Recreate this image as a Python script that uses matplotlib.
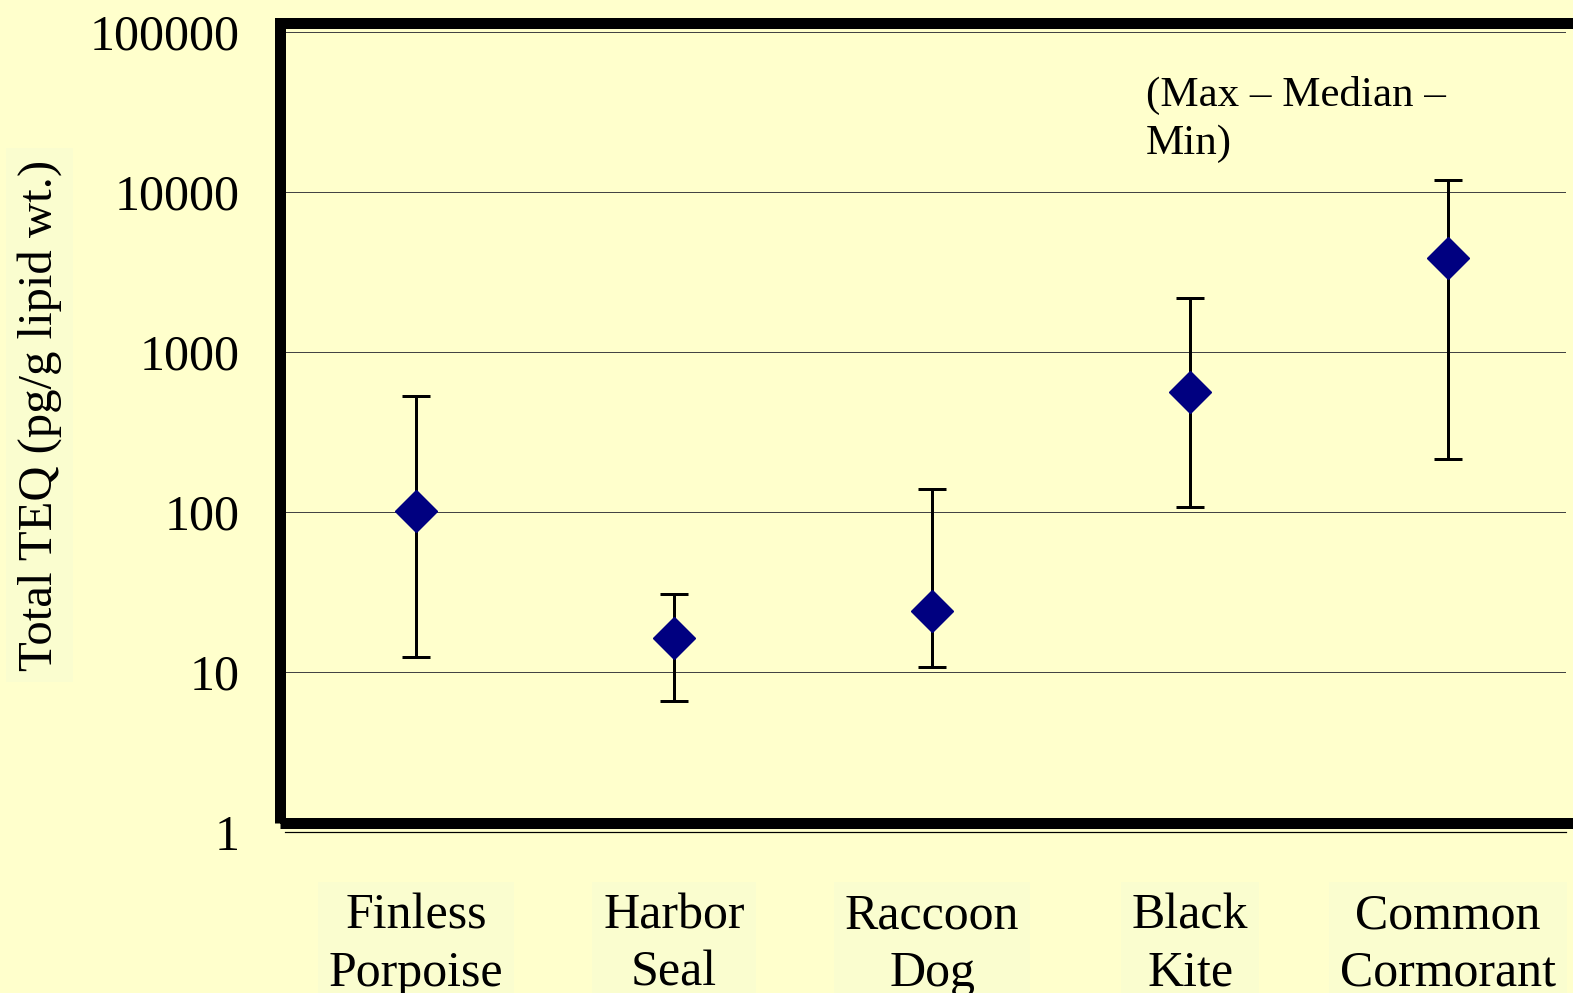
import matplotlib
matplotlib.use("Agg")
import matplotlib.pyplot as plt
from matplotlib.patches import Rectangle
import numpy as np

categories = ["Finless\nPorpoise", "Harbor\nSeal", "Raccoon\nDog", "Black\nKite", "Common\nCormorant"]
median_vals = [101, 16.3, 24.0, 562, 3870]
max_vals = [531, 30.7, 139, 2175, 11900]
min_vals = [12.4, 6.6, 10.7, 107, 214]
ytick_vals = [1, 10, 100, 1000, 10000, 100000]
ytick_labels = ["1", "10", "100", "1000", "10000", "100000"]

BG = "#FFFFCC"
W, H = 1573, 993
DPI = 100
plt.rcParams['font.family'] = ['Liberation Serif', 'DejaVu Serif']

fig = plt.figure(figsize=(W / DPI, H / DPI), dpi=DPI, facecolor=BG)
ax = fig.add_axes([285 / W, (H - 832) / H, (1566 - 285) / W, (832 - 32) / H])
ax.set_facecolor(BG)

x = np.arange(len(categories))
med = np.array(median_vals)
lower = med - np.array(min_vals)
upper = np.array(max_vals) - med
px = 72 / DPI
ax.errorbar(x, med, yerr=[lower, upper], fmt='none', ecolor='black',
            elinewidth=3 * px, capsize=14 * px, capthick=3 * px, zorder=3)
ax.plot(x, med, linestyle='none', marker='D', markersize=21, color='#000080',
        markeredgecolor='#000080', zorder=4)

ax.set_yscale('log')
ax.set_ylim(1, 100000)
ax.set_xlim(-0.508, 4.457)
ax.set_yticks(ytick_vals)
ax.set_yticklabels(ytick_labels)
ax.yaxis.set_minor_locator(matplotlib.ticker.NullLocator())
ax.set_xticks(x)
ax.set_xticklabels(categories)
ax.tick_params(axis='y', length=0, pad=33, labelsize=36)
ax.tick_params(axis='x', length=0, pad=44, labelsize=36)
for lbl in ax.get_xticklabels():
    lbl.set_linespacing(1.3)
    lbl.set_bbox(dict(facecolor='#FAFDCF', edgecolor='none', pad=8))

ax.grid(axis='y', which='major', color='#444444', linewidth=1 * px)
ax.grid(axis='x', visible=False)
ax.set_axisbelow(True)

for s in ['top', 'left', 'right']:
    ax.spines[s].set_visible(False)
ax.spines['bottom'].set_linewidth(1.2 * px)
ax.spines['bottom'].set_color('black')

ax.set_ylabel("Total TEQ (pg/g lipid wt.)", fontsize=35, labelpad=0,
              bbox=dict(facecolor='#FAFDCF', edgecolor='none', pad=8))
ax.yaxis.set_label_coords(-(285 - 62) / (1566 - 285), 0.521)

ax.text(0.672, 0.945, "(Max \u2013 Median \u2013\nMin)", transform=ax.transAxes,
        fontsize=31, va='top', ha='left', linespacing=1.32)

frame = Rectangle((279.5 / W, (H - 822.5) / H), (1580 - 279.5) / W, (822.5 - 23) / H,
                  transform=fig.transFigure, fill=False, edgecolor='black',
                  linewidth=11 * px, clip_on=False, zorder=10)
fig.patches.append(frame)

fig.savefig("out.png", dpi=DPI, facecolor=BG)
